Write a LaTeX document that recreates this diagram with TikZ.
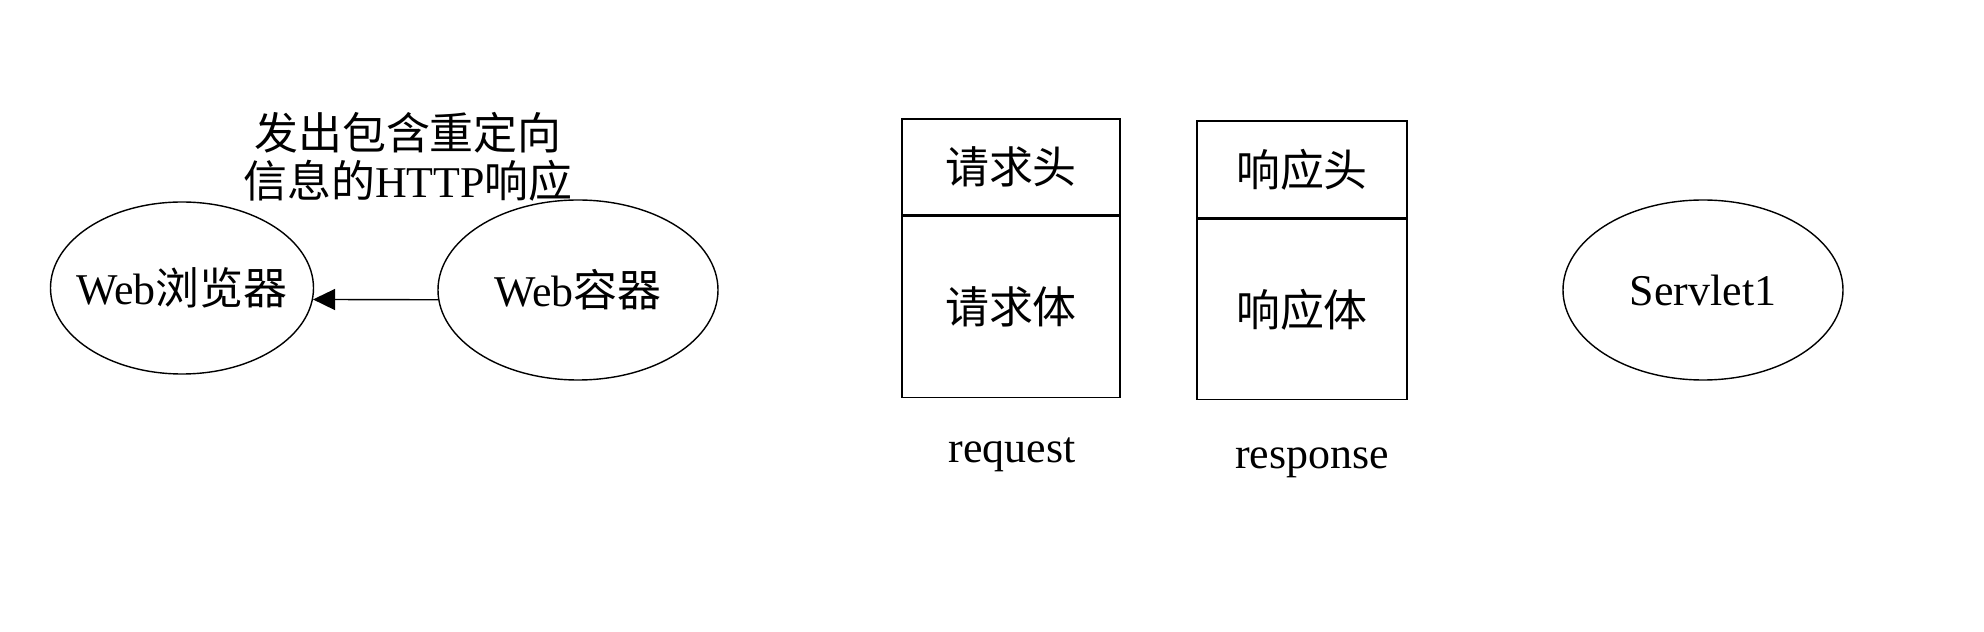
\documentclass[tikz,border=0pt]{standalone}
\usepackage{fontspec}
\setmainfont{Liberation Serif}
\newfontfamily\cjk{Noto Sans CJK SC}
\usetikzlibrary{
    positioning,
    arrows.meta,
    shapes.geometric
}
\tikzset{
    oval/.style={draw, ellipse, line width=0.8pt, inner sep=0pt},
    part/.style={draw, rectangle, line width=0.8pt, inner sep=0pt}
}

\begin{document}
\begin{tikzpicture}[font=\fontsize{25}{27}\selectfont]
            \useasboundingbox (0,0) rectangle (39.68,12.64);

            % browser and container
            \node[oval, inner xsep=-0.3cm, minimum width=5.26cm, minimum height=3.44cm] (brow) at (3.64,6.88) {Web{\cjk 浏览器}};
            \node[oval, minimum width=5.6cm, minimum height=3.6cm] (cont) at (11.56,6.84) {Web{\cjk 容器}};
            \node[align=center] (note) at (8.16,9.5) {{\cjk 发出包含重定向}\\{\cjk 信息的}HTTP{\cjk 响应}};

            \draw[line width=0.8pt, -{Triangle[length=0.44cm, width=0.42cm]}] (cont.184.5) -- (brow.-5.7);

            % request object
            \node[part, minimum width=4.36cm, minimum height=1.92cm] (reqhead) at (20.22,9.3) {{\cjk 请求头}};
            \node[part, minimum width=4.36cm, minimum height=3.62cm, below=0pt of reqhead] (reqbody) {{\cjk 请求体}};
            \node (reqname) at (20.24,3.54) {request};

            % response object
            \node[part, minimum width=4.2cm, minimum height=1.94cm] (resphead) at (26.04,9.25) {{\cjk 响应头}};
            \node[part, minimum width=4.2cm, minimum height=3.6cm, below=0pt of resphead] (respbody) {{\cjk 响应体}};
            \node (respname) at (26.24,3.38) {response};

            % servlet
            \node[oval, minimum width=5.6cm, minimum height=3.6cm] (servlet) at (34.06,6.84) {Servlet1};
        \end{tikzpicture}
\end{document}
